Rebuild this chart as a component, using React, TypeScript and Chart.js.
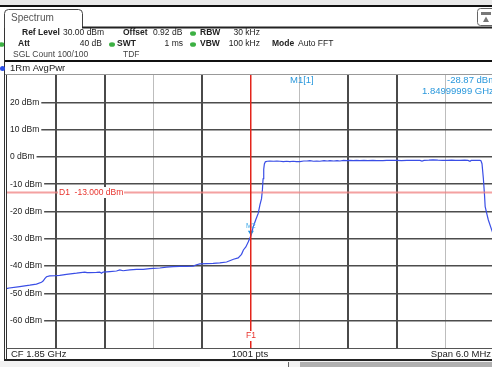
import React, { useEffect, useRef } from "react";
import { Chart, registerables } from "chart.js";

Chart.register(...registerables);

// Trace: frequency offset from centre (MHz) and level (dBm)
const freqOffsetMHz: number[] = [
  -3.0, -2.991, -2.843, -2.72, -2.638, -2.576, -2.556, -2.535, -2.514, -2.474, -2.4, -2.351, -2.268, -2.145,
  -2.043, -2.015, -1.982, -1.899, -1.858, -1.838, -1.818, -1.735, -1.653, -1.612, -1.572, -1.489, -1.407,
  -1.325, -1.243, -1.202, -1.12, -1.038, -0.956, -0.874, -0.792, -0.71, -0.669, -0.628, -0.545, -0.464,
  -0.382, -0.299, -0.214, -0.156, -0.115, -0.092, -0.062, -0.033, 0.0, 0.029, 0.06, 0.09, 0.112, 0.131,
  0.142, 0.15, 0.158, 0.166, 0.178, 0.2, 0.234, 0.28, 0.32, 0.357, 0.4, 0.44, 0.48, 0.52, 0.56, 0.603, 0.65,
  0.689, 0.726, 0.77, 0.81, 0.849, 0.9, 0.94, 0.972, 1.02, 1.06, 1.095, 1.14, 1.18, 1.218, 1.26, 1.3, 1.341,
  1.39, 1.44, 1.501, 1.55, 1.624, 1.67, 1.72, 1.797, 1.85, 1.92, 1.98, 2.03, 2.08, 2.105, 2.13, 2.19, 2.24,
  2.3, 2.36, 2.412, 2.47, 2.52, 2.572, 2.63, 2.67, 2.695, 2.71, 2.76, 2.818, 2.83, 2.843, 2.86, 2.874, 2.882,
  2.901, 2.921, 2.963, 3.0,
];
const levelDbm: number[] = [
  -48.2, -48.1, -47.5, -47.0, -46.6, -45.9, -45.5, -44.6, -43.9, -43.6, -43.5, -43.4, -43.0, -42.6,
  -42.2, -42.4, -42.4, -42.3, -42.2, -42.6, -42.2, -42.0, -41.8, -41.4, -41.7, -41.4, -41.2,
  -41.2, -40.9, -40.8, -40.7, -40.4, -40.2, -40.1, -40.1, -40.0, -39.5, -39.2, -39.1, -39.0,
  -38.8, -38.5, -37.5, -37.0, -35.7, -34.1, -33.0, -31.2, -28.87, -25.6, -23.0, -20.7, -17.5, -15.3,
  -12.0, -8.0, -4.5, -2.6, -1.8, -1.6, -1.5, -1.6, -1.5, -1.6, -1.7, -1.6, -1.7, -1.6, -1.7, -1.7, -1.5,
  -1.5, -1.4, -1.6, -1.5, -1.6, -1.4, -1.5, -1.4, -1.5, -1.4, -1.5, -1.3, -1.4, -1.3, -1.4, -1.3, -1.4,
  -1.3, -1.4, -1.25, -1.35, -1.4, -1.3, -1.25, -1.25, -1.35, -1.25, -1.3, -1.25, -1.25, -1.5, -1.25, -1.2, -1.1,
  -1.2, -1.25, -1.25, -1.2, -1.25, -1.25, -1.2, -1.3, -1.6, -1.3, -1.25, -1.3, -1.4, -2.5, -8.0, -14.0, -18.2,
  -20.7, -23.1, -26.8, -30.0,
];

const xGridMHz = [-3, -2.4, -1.8, -1.2, -0.6, 0, 0.6, 1.2, 1.8, 2.4, 3];
const xLightGridMHz = [-1.2, 0.6, 2.4];
const xHiddenGridMHz = [-3, 0];
const yTickDbm = [20, 10, 0, -10, -20, -30, -40, -50, -60];
const displayLineDbm = -13;
const frequencyLineMHz = 0;
const markerFreqMHz = 0;
const markerLevelDbm = -28.87;

const FONT = '"Liberation Sans", Arial, sans-serif';
const W = 492;
const H = 367;

function font(size: number, bold = false) {
  return `${bold ? "bold " : ""}${size}px ${FONT}`;
}

function txt(ctx: CanvasRenderingContext2D, s: string, x: number, y: number, opts: { size?: number; bold?: boolean; color?: string; align?: CanvasTextAlign } = {}) {
  ctx.font = font(opts.size ?? 8.5, opts.bold ?? false);
  ctx.fillStyle = opts.color ?? "#222";
  ctx.textAlign = opts.align ?? "left";
  ctx.textBaseline = "middle";
  ctx.fillText(s, x, y);
}

function dot(ctx: CanvasRenderingContext2D, x: number, y: number, color: string) {
  ctx.fillStyle = color;
  ctx.beginPath();
  ctx.ellipse(x, y, 3, 2.3, 0, 0, Math.PI * 2);
  ctx.fill();
}

const framePlugin = {
  id: "analyzerFrame",
  beforeDraw(chart: any) {
    const ctx: CanvasRenderingContext2D = chart.ctx;
    ctx.save();
    ctx.fillStyle = "#ffffff";
    ctx.fillRect(0, 0, W, H);
    // top strip
    ctx.fillStyle = "#e9e9e9";
    ctx.fillRect(0, 0, W, 5);
    ctx.fillStyle = "#111";
    ctx.fillRect(0, 5, W, 2);
    // tab
    ctx.strokeStyle = "#444";
    ctx.lineWidth = 1;
    ctx.beginPath();
    ctx.moveTo(4.5, 30);
    ctx.lineTo(4.5, 13.5);
    ctx.quadraticCurveTo(4.5, 9.5, 8.5, 9.5);
    ctx.lineTo(78.5, 9.5);
    ctx.quadraticCurveTo(82.5, 9.5, 82.5, 13.5);
    ctx.lineTo(82.5, 27.5);
    ctx.stroke();
    ctx.fillStyle = "#222";
    ctx.fillRect(82, 26.5, W - 82, 2);
    txt(ctx, "Spectrum", 11, 18.5, { size: 10, color: "#555" });
    // icon top right
    ctx.strokeStyle = "#666";
    ctx.beginPath();
    ctx.moveTo(492, 8.5);
    ctx.lineTo(480.5, 8.5);
    ctx.quadraticCurveTo(477.5, 8.5, 477.5, 11.5);
    ctx.lineTo(477.5, 22.5);
    ctx.quadraticCurveTo(477.5, 25.5, 480.5, 25.5);
    ctx.lineTo(492, 25.5);
    ctx.stroke();
    ctx.fillStyle = "#777";
    ctx.fillRect(481, 12, 10, 3);
    ctx.beginPath();
    ctx.moveTo(486, 16.5);
    ctx.lineTo(489, 22);
    ctx.lineTo(483, 22);
    ctx.closePath();
    ctx.fill();

    // header rows
    txt(ctx, "Ref Level", 22, 33, { bold: true });
    txt(ctx, "30.00 dBm", 63, 33);
    txt(ctx, "Offset", 123, 33, { bold: true });
    txt(ctx, "0.92 dB", 153, 33);
    dot(ctx, 193, 33.5, "#3cb043");
    txt(ctx, "RBW", 200, 33, { bold: true });
    txt(ctx, "30 kHz", 260, 33, { align: "right" });

    dot(ctx, 1.5, 44.5, "#3cb043");
    txt(ctx, "Att", 18, 44, { bold: true });
    txt(ctx, "40 dB", 102, 44, { align: "right" });
    dot(ctx, 112, 44.5, "#3cb043");
    txt(ctx, "SWT", 117, 44, { bold: true });
    txt(ctx, "1 ms", 183, 44, { align: "right" });
    dot(ctx, 193, 44.5, "#3cb043");
    txt(ctx, "VBW", 200, 44, { bold: true });
    txt(ctx, "100 kHz", 260, 44, { align: "right" });
    txt(ctx, "Mode", 272, 44, { bold: true });
    txt(ctx, "Auto FFT", 298, 44);

    txt(ctx, "SGL Count 100/100", 13, 55, { color: "#444" });
    txt(ctx, "TDF", 123, 55, { color: "#444" });

    ctx.fillStyle = "#111";
    ctx.fillRect(4, 60, W - 4, 2);
    txt(ctx, "1Rm AvgPwr", 10, 68.5, { size: 9.5, color: "#222" });
    ctx.fillStyle = "#999";
    ctx.fillRect(4, 74, W - 4, 1);
    ctx.restore();
  },
  afterDatasetsDraw(chart: any) {
    const ctx: CanvasRenderingContext2D = chart.ctx;
    const { left, right } = chart.chartArea;
    const xs = chart.scales.x;
    const ys = chart.scales.y;
    ctx.save();
    // display line D1
    const yD = Math.round(ys.getPixelForValue(displayLineDbm)) + 0.5;
    ctx.strokeStyle = "rgba(240,130,130,0.75)";
    ctx.lineWidth = 2;
    ctx.beginPath();
    ctx.moveTo(left, yD);
    ctx.lineTo(right, yD);
    ctx.stroke();
    ctx.fillStyle = "#fff";
    ctx.fillRect(58, yD - 5.5, 66, 11);
    txt(ctx, "D1  -13.000 dBm", 59, yD + 0.5, { color: "#e8322c" });

    // marker M2
    const mx = xs.getPixelForValue(markerFreqMHz);
    const my = ys.getPixelForValue(markerLevelDbm);
    ctx.fillStyle = "#1e8fe0";
    ctx.beginPath();
    ctx.moveTo(mx - 3, my - 5);
    ctx.lineTo(mx + 3, my - 5);
    ctx.lineTo(mx, my);
    ctx.closePath();
    ctx.fill();
    txt(ctx, "M2", mx, my - 10, { size: 7, color: "#3aa6e6", align: "center" });

    // marker readout
    txt(ctx, "M1[1]", 290, 80.5, { size: 9.5, color: "#2a98dc" });
    txt(ctx, "-28.87 dBm", 447, 80.5, { size: 9.5, color: "#2a98dc" });
    txt(ctx, "1.84999999 GHz", 422, 91.5, { size: 9.5, color: "#2a98dc" });
    ctx.restore();
  },
  afterDraw(chart: any) {
    const ctx: CanvasRenderingContext2D = chart.ctx;
    const { top, bottom } = chart.chartArea;
    const xs = chart.scales.x;
    ctx.save();
    // frequency line F1
    const xF = Math.floor(xs.getPixelForValue(frequencyLineMHz));
    ctx.fillStyle = "#e3241b";
    ctx.fillRect(xF, top, 1.5, bottom - 17 - top);
    ctx.fillRect(xF, bottom - 7, 1.5, 7);
    txt(ctx, "F1", xF + 1, bottom - 12, { color: "#e8322c", align: "center" });

    // left panel borders
    ctx.fillStyle = "#333";
    ctx.fillRect(4, 28, 1, 333);
    ctx.fillRect(6, 75, 1, 285);
    ctx.fillStyle = "#2a4de8";
    ctx.beginPath();
    ctx.arc(2.5, 68.5, 2.5, 0, Math.PI * 2);
    ctx.fill();
    // plot bottom border
    ctx.fillStyle = "#555";
    ctx.fillRect(6, bottom, W - 6, 1);
    // footer
    txt(ctx, "CF 1.85 GHz", 11, 354, { size: 9.5 });
    txt(ctx, "1001 pts", 250, 354, { size: 9.5, align: "center" });
    txt(ctx, "Span 6.0 MHz", 491, 354, { size: 9.5, align: "right" });
    ctx.fillStyle = "#222";
    ctx.fillRect(4, 359, W - 4, 2);
    ctx.fillStyle = "#f2f2f2";
    ctx.fillRect(0, 361, W, H - 361);
    ctx.fillStyle = "#fcfcfc";
    ctx.fillRect(200, 362, 88, H - 362);
    ctx.fillStyle = "#666";
    ctx.fillRect(288, 362, 1, H - 362);
    ctx.fillStyle = "#b0b0b0";
    ctx.fillRect(300, 362, W - 300, H - 362);
    ctx.restore();
  },
};

export default function App() {
  const canvasRef = useRef<HTMLCanvasElement | null>(null);

  useEffect(() => {
    const canvas = canvasRef.current;
    if (!canvas) return;
    const chart = new Chart(canvas, {
      type: "line",
      data: {
        datasets: [
          {
            data: freqOffsetMHz.map((f, i) => ({ x: f, y: levelDbm[i] })),
            borderColor: "#3a4ee6",
            borderWidth: 1.2,
            pointRadius: 0,
            tension: 0,
            fill: false,
          },
        ],
      },
      options: {
        responsive: false,
        animation: false,
        devicePixelRatio: 1,
        layout: { padding: { left: 7, top: 75, right: 0, bottom: 19 } },
        plugins: { legend: { display: false }, tooltip: { enabled: false } },
        scales: {
          x: {
            type: "linear",
            min: -3,
            max: 2.966,
            afterFit: (s: any) => {
              s.height = 0;
            },
            afterBuildTicks: (s: any) => {
              s.ticks = xGridMHz.map((v) => ({ value: v }));
            },
            ticks: { display: false },
            border: { display: false },
            grid: {
              drawTicks: false,
              color: (c: any) =>
                c.tick && xHiddenGridMHz.includes(c.tick.value)
                  ? "rgba(0,0,0,0)"
                  : c.tick && xLightGridMHz.includes(c.tick.value)
                  ? "#bdbdbd"
                  : "#4a4a4a",
              lineWidth: (c: any) => (c.tick && xLightGridMHz.includes(c.tick.value) ? 1 : 2),
            },
          },
          y: {
            type: "linear",
            min: -70,
            max: 30,
            afterFit: (s: any) => {
              s.width = 0;
            },
            afterBuildTicks: (s: any) => {
              s.ticks = yTickDbm.map((v) => ({ value: v }));
            },
            ticks: {
              mirror: true,
              padding: 3,
              color: "#222",
              font: { family: FONT, size: 8.5 },
              callback: (v: any) => `${v} dBm`,
              showLabelBackdrop: true,
              backdropColor: "#ffffff",
              backdropPadding: { left: 3, right: 2, top: 0, bottom: 0 },
            },
            border: { display: false },
            grid: { drawTicks: false, color: "#4d4d4d", lineWidth: 1.5 },
          },
        },
      },
      plugins: [framePlugin],
    } as any);
    return () => chart.destroy();
  }, []);

  return (
    <div style={{ position: "absolute", left: 0, top: 0, width: W, height: H, background: "#fff" }}>
      <canvas ref={canvasRef} width={W} height={H} style={{ display: "block", width: W, height: H }} />
    </div>
  );
}
